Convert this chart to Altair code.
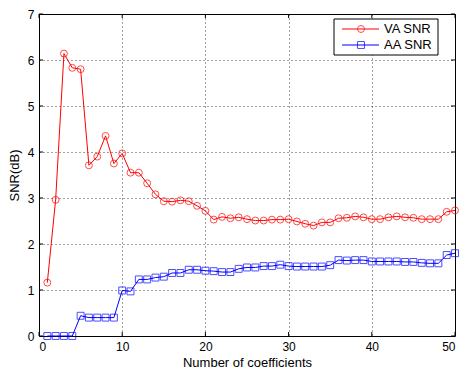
import altair as alt
import pandas as pd

# ---- data ----
coeffs = [1, 2, 3, 4, 5, 6, 7, 8, 9, 10,
          11, 12, 13, 14, 15, 16, 17, 18, 19, 20,
          21, 22, 23, 24, 25, 26, 27, 28, 29, 30,
          31, 32, 33, 34, 35, 36, 37, 38, 39, 40,
          41, 42, 43, 44, 45, 46, 47, 48, 49, 50]
va_snr = [1.16, 2.96, 6.14, 5.83, 5.80, 3.71, 3.90, 4.35, 3.75, 3.97,
          3.55, 3.55, 3.32, 3.08, 2.93, 2.92, 2.95, 2.93, 2.83, 2.72,
          2.53, 2.59, 2.56, 2.58, 2.54, 2.51, 2.51, 2.53, 2.53, 2.54,
          2.49, 2.44, 2.40, 2.47, 2.47, 2.56, 2.57, 2.60, 2.58, 2.54,
          2.54, 2.58, 2.60, 2.58, 2.57, 2.54, 2.54, 2.54, 2.70, 2.73]
aa_snr = [0.0, 0.0, 0.0, 0.0, 0.44, 0.40, 0.40, 0.40, 0.40, 0.99,
          0.97, 1.23, 1.23, 1.27, 1.29, 1.37, 1.37, 1.44, 1.44, 1.42,
          1.41, 1.39, 1.39, 1.46, 1.49, 1.49, 1.52, 1.52, 1.55, 1.52,
          1.51, 1.51, 1.51, 1.51, 1.54, 1.65, 1.64, 1.65, 1.65, 1.62,
          1.62, 1.62, 1.62, 1.61, 1.61, 1.59, 1.58, 1.58, 1.76, 1.80]
series_names = ["VA SNR", "AA SNR"]
series_colors = ["#ff0000", "#0000ff"]
series_shapes = ["circle", "square"]
x_ticks = [0, 10, 20, 30, 40, 50]
y_ticks = [0, 1, 2, 3, 4, 5, 6, 7]

W, H = 416, 322
PAD = {"left": 31, "top": 6, "right": 5, "bottom": 35}
FONT = "Liberation Sans"

df = pd.DataFrame({
    "n": coeffs + coeffs,
    "snr": va_snr + aa_snr,
    "series": [series_names[0]] * len(coeffs) + [series_names[1]] * len(coeffs),
})

xscale = alt.Scale(domain=[0, 50], nice=False, zero=False)
yscale = alt.Scale(domain=[0, 7], nice=False, zero=False)
cscale = alt.Scale(domain=series_names, range=series_colors)
sscale = alt.Scale(domain=series_names, range=series_shapes)

xaxis = alt.Axis(values=x_ticks, title="Number of coefficients", grid=True,
                 ticks=False, tickSize=0, labelPadding=5, titlePadding=4,
                 domain=False)
yaxis = alt.Axis(values=y_ticks, title="SNR(dB)", grid=True,
                 ticks=False, tickSize=0, labelPadding=5, titlePadding=6,
                 domain=False)

base = alt.Chart(df).encode(
    x=alt.X("n:Q", scale=xscale, axis=xaxis),
    y=alt.Y("snr:Q", scale=yscale, axis=yaxis),
    color=alt.Color("series:N", scale=cscale, legend=None),
    detail="series:N",
)
lines = base.mark_line(strokeWidth=1)
points = base.mark_point(filled=False, strokeWidth=1, size=48).encode(
    shape=alt.Shape("series:N", scale=sscale, legend=None))

# inward tick marks on all four sides (MATLAB box style)
xt = pd.DataFrame({"t": x_ticks})
yt = pd.DataFrame({"t": y_ticks})
tk = dict(color="black", strokeWidth=1)
xb = alt.Chart(xt).mark_rule(**tk).encode(
    x=alt.X("t:Q", scale=xscale, axis=xaxis), y=alt.value(H), y2=alt.value(H - 4))
xtp = alt.Chart(xt).mark_rule(**tk).encode(
    x=alt.X("t:Q", scale=xscale, axis=xaxis), y=alt.value(0), y2=alt.value(4))
yl = alt.Chart(yt).mark_rule(**tk).encode(
    y=alt.Y("t:Q", scale=yscale, axis=yaxis), x=alt.value(0), x2=alt.value(4))
yr = alt.Chart(yt).mark_rule(**tk).encode(
    y=alt.Y("t:Q", scale=yscale, axis=yaxis), x=alt.value(W - 4), x2=alt.value(W))

# manual legend box (top right, inside the axes)
one = pd.DataFrame({"a": [0]})
lx1 = W - 17
lx0 = lx1 - 104
ly0, ly1 = 5, 41
legend_layers = [
    alt.Chart(one).mark_rect(fill="white", stroke="black", strokeWidth=1).encode(
        x=alt.value(lx0), x2=alt.value(lx1), y=alt.value(ly0), y2=alt.value(ly1)),
]
for i, name in enumerate(series_names):
    yy = 15 + 16 * i
    legend_layers.append(alt.Chart(one).mark_rule(color=series_colors[i], strokeWidth=1).encode(
        x=alt.value(lx0 + 8), x2=alt.value(lx0 + 45), y=alt.value(yy)))
    legend_layers.append(alt.Chart(one).mark_point(
        shape=series_shapes[i], color=series_colors[i], filled=False, strokeWidth=1, size=48).encode(
        x=alt.value(lx0 + 27), y=alt.value(yy)))
    legend_layers.append(alt.Chart(one).mark_text(
        align="left", baseline="middle", fontSize=13, font=FONT, color="black").encode(
        x=alt.value(lx0 + 50), y=alt.value(yy), text=alt.value(name)))

chart = alt.layer(lines, points, xb, xtp, yl, yr, *legend_layers).properties(
    width=W, height=H,
    autosize=alt.AutoSizeParams(type="none"),
    padding=PAD,
).configure_view(
    stroke="black", strokeWidth=1
).configure_axis(
    gridColor="#000000", gridDash=[1, 3], gridOpacity=0.75, gridWidth=1,
    labelFont=FONT, labelFontSize=12, labelColor="black",
    titleFont=FONT, titleFontSize=13, titleFontWeight="normal", titleColor="black",
)

chart.save("out.html", embed_options={"renderer": "svg", "actions": False})
